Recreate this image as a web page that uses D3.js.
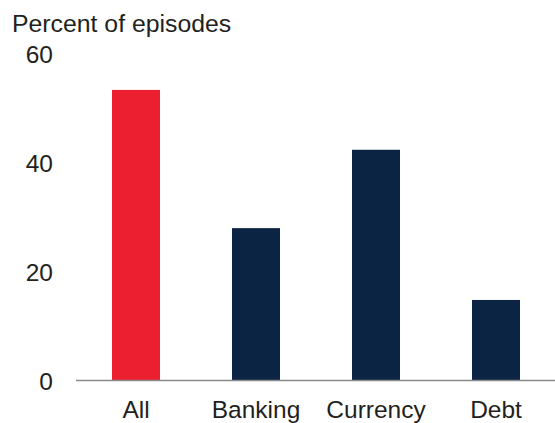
<!DOCTYPE html>
<html>
<head>
<meta charset="utf-8">
<script src="https://cdn.jsdelivr.net/npm/d3@7"></script>
<style>
  html, body { margin: 0; padding: 0; background: #fff; }
  svg { display: block; }
  text { font-family: "Liberation Sans", Arial, sans-serif; fill: #231f20; }
</style>
</head>
<body>
<svg id="chart" width="555" height="423"></svg>
<script>
const categories = ["All", "Banking", "Currency", "Debt"];
const values = [53.4, 28.0, 42.4, 14.8];
const yTicks = [0, 20, 40, 60];
const yTitle = "Percent of episodes";

const svg = d3.select("#chart");
const x = d3.scaleBand().domain(categories).range([76, 556]).paddingInner(0.6).paddingOuter(0.3);
const y = d3.scaleLinear().domain([0, 60]).range([380.5, 54]);
const colors = d3.scaleOrdinal().domain(categories).range(["#EC1F31", "#0C2443", "#0C2443", "#0C2443"]);

svg.selectAll("rect.bar").data(categories).join("rect")
  .attr("class", "bar")
  .attr("x", d => x(d))
  .attr("width", x.bandwidth())
  .attr("y", (d, i) => y(values[i]))
  .attr("height", (d, i) => y(0) - y(values[i]))
  .attr("fill", d => colors(d));

// y axis labels
const yAxis = d3.axisLeft(y).tickValues(yTicks).tickSize(0).tickPadding(0);
const gy = svg.append("g").attr("transform", "translate(53,0)").call(yAxis);
gy.select(".domain").remove();
gy.selectAll("text").attr("font-size", 24.5).attr("dy", "0.36em")
  .style("font-family", "Liberation Sans, Arial, sans-serif").attr("fill", "#231f20");

// x axis
const xAxis = d3.axisBottom(x).tickSize(0).tickPadding(0);
const gx = svg.append("g").attr("transform", `translate(0,${y(0)})`).call(xAxis);
gx.select(".domain").attr("stroke", "#8a8a8a").attr("stroke-width", 1.5)
  .attr("d", "M76,0H556");
gx.selectAll("text").attr("font-size", 24.5).attr("dy", null).attr("y", 37)
  .style("font-family", "Liberation Sans, Arial, sans-serif").attr("fill", "#231f20");

svg.append("text").attr("x", 12).attr("y", 32).attr("font-size", 24.8)
  .text(yTitle);
</script>
</body>
</html>
